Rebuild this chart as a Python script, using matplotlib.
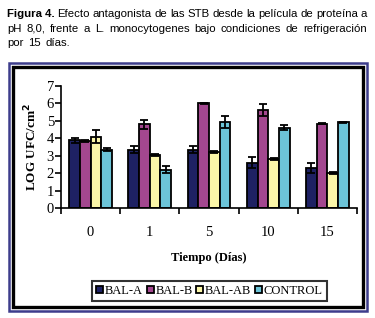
import numpy as np
import matplotlib
matplotlib.use("Agg")
import matplotlib.pyplot as plt
from matplotlib.patches import Rectangle

# Datos
dias = ["0", "1", "5", "10", "15"]
series = ["BAL-A", "BAL-B", "BAL-AB", "CONTROL"]
bal_a = [3.88, 3.35, 3.35, 2.6, 2.28]
bal_b = [3.85, 4.8, 6.02, 5.6, 4.83]
bal_ab = [4.1, 3.05, 3.2, 2.82, 2.0]
control = [3.35, 2.2, 4.95, 4.6, 4.92]
err_a = [0.15, 0.2, 0.2, 0.3, 0.3]
err_b = [0.05, 0.25, 0.03, 0.35, 0.03]
err_ab = [0.35, 0.05, 0.05, 0.04, 0.05]
err_c = [0.1, 0.2, 0.35, 0.15, 0.04]

colores = ["#1e2163", "#a3478f", "#fbf6a8", "#6cc4d8"]
valores = [bal_a, bal_b, bal_ab, control]
errores = [err_a, err_b, err_ab, err_c]

fig = plt.figure(figsize=(3.75, 3.18), dpi=100)
W, H = 375, 318

# marcos del grafico
fig.patches.append(Rectangle((9 / W, 1 - 311 / H), 358 / W, 248 / H, transform=fig.transFigure,
                             fill=False, edgecolor="#3d3d8c", linewidth=1.8))
fig.patches.append(Rectangle((13.5 / W, 1 - 306.5 / H), 349.5 / W, 239 / H, transform=fig.transFigure,
                             fill=False, edgecolor="black", linewidth=2.4))

ax = fig.add_axes([61 / W, 1 - 208 / H, 296 / W, 122 / H])
x = np.arange(len(dias))
w = 0.18
for i, nombre in enumerate(series):
    ax.bar(x + (i - 1.5) * w, valores[i], w, color=colores[i], edgecolor="black",
           linewidth=1.3, label=nombre, zorder=2)
    ax.errorbar(x + (i - 1.5) * w, valores[i], yerr=errores[i], fmt="none",
                ecolor="black", elinewidth=1.3, capsize=3, capthick=1.3, zorder=3)

serif = "Liberation Serif"
ax.set_xlim(-0.5, 4.5)
ax.set_ylim(0, 7)
ax.set_yticks(range(8))
ax.set_yticklabels([str(v) for v in range(8)], family=serif, fontsize=10.5)
ax.set_xticks(np.arange(-0.5, 5, 1))
ax.set_xticklabels([])
ax.set_xticks(x, minor=True)
ax.set_xticklabels(dias, minor=True, family=serif, fontsize=10.5)
ax.tick_params(axis="x", which="minor", length=0, pad=13)
ax.tick_params(axis="x", which="major", length=4, width=1.2, direction="out")
ax.tick_params(axis="y", length=4, width=1.2, direction="out", pad=1)
for s in ["top", "right"]:
    ax.spines[s].set_visible(False)
ax.spines["left"].set_linewidth(1.2)
ax.spines["bottom"].set_linewidth(1.2)

ax.set_ylabel("LOG UFC/cm$^{\\mathbf{2}}$", family=serif, fontweight="bold", fontsize=9.5, labelpad=5)
fig.text(209 / W, 1 - 258 / H, "Tiempo (Días)", family=serif, fontweight="bold",
         fontsize=9, ha="center", va="center")

leg = fig.legend(loc="center", bbox_to_anchor=(209.5 / W, 1 - 291 / H), ncol=4,
                 prop={"family": serif, "size": 9}, frameon=True, fancybox=False,
                 handlelength=0.55, handleheight=0.55, handletextpad=0.15, columnspacing=0.3,
                 borderpad=0.35, borderaxespad=0)
leg.get_frame().set_edgecolor("black")
leg.get_frame().set_linewidth(1.5)

# titulo justificado
fuente = ["Liberation Sans Narrow", "DejaVu Sans Condensed", "Liberation Sans"]
lineas = [
    ["Figura 4.", "Efecto", "antagonista", "de", "las", "STB", "desde", "la", "película", "de", "proteína", "a"],
    ["pH", "8,0,", "frente", "a", "L.", "monocytogenes", "bajo", "condiciones", "de", "refrigeración"],
    ["por", "15", "días."],
]
x0, x1 = 7, 367
ys = [14, 28.5, 43]
renderer = fig.canvas.get_renderer()
todos = []
for j, palabras in enumerate(lineas):
    textos = []
    for k, p in enumerate(palabras):
        t = fig.text(0, 1 - ys[j] / H, p, family=fuente, fontsize=9.5, va="center",
                     fontweight="bold" if (j == 0 and k == 0) else "normal")
        textos.append(t)
    todos.append(textos)

# reducir el tamano si el texto no cabe
tam = 9.5
while True:
    maxw = max(sum(t.get_window_extent(renderer).width for t in ts) + 2.8 * (len(ts) - 1)
               for ts in todos[:2])
    if maxw <= x1 - x0 or tam < 6:
        break
    tam -= 0.1
    for ts in todos:
        for t in ts:
            t.set_fontsize(tam)

for j, textos in enumerate(todos):
    anchos = [t.get_window_extent(renderer).width for t in textos]
    if j < 2:
        hueco = (x1 - x0 - sum(anchos)) / (len(textos) - 1)
    else:
        hueco = 4.5
    pos = x0
    for t, a in zip(textos, anchos):
        t.set_x(pos / W)
        pos += a + hueco

fig.savefig("out.png", dpi=100)
